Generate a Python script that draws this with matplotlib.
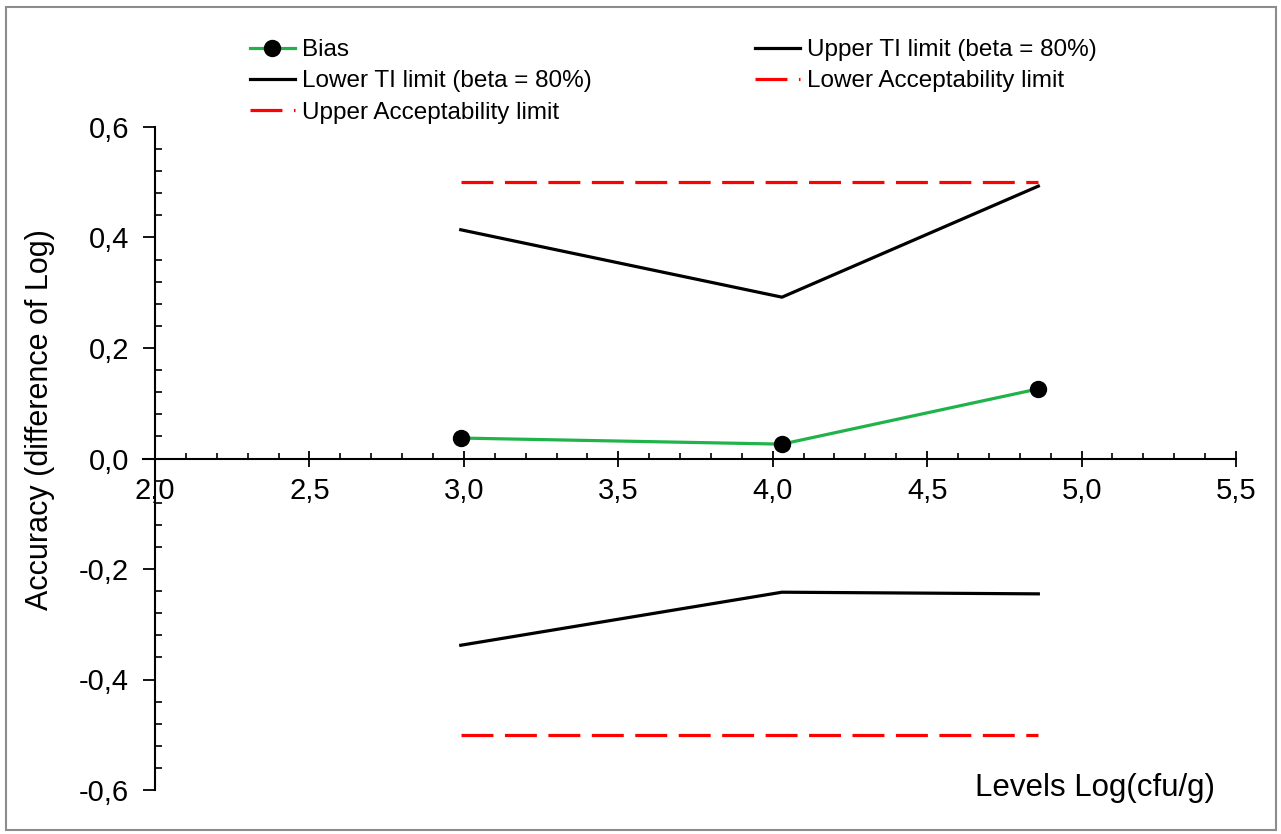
import matplotlib
matplotlib.use("Agg")
import matplotlib.pyplot as plt
from matplotlib.ticker import MultipleLocator, FuncFormatter
from matplotlib.patches import Rectangle

plt.rcParams['font.family'] = ['Liberation Sans', 'DejaVu Sans']

##values
levels = [2.99, 4.03, 4.86]
bias = [0.037, 0.026, 0.126]
upper_ti = [0.414, 0.292, 0.493]
lower_ti = [-0.338, -0.242, -0.245]
upper_acc = [0.5, 0.5, 0.5]
lower_acc = [-0.5, -0.5, -0.5]

W, H = 1281, 834
fig = plt.figure(figsize=(W / 100, H / 100), dpi=100)

##axes placed so that x=2.0 sits at 155 px and y spans 127..790 px
ax = fig.add_axes([143 / W, 1 - 790 / H, (1236 - 143) / W, (790 - 127) / H])
ax.set_xlim(2.0 - 12 / 308.86, 5.5)
ax.set_ylim(-0.6, 0.6)

red_dash = (0, (10, 3.6))
l_bias, = ax.plot(levels, bias, color='#1fb34a', lw=2.3, marker='o', ms=11.5,
                  mfc='black', mec='black', zorder=5, label='Bias')
l_up, = ax.plot(levels, upper_ti, color='black', lw=2.3, label='Upper TI limit (beta = 80%)')
l_lo, = ax.plot(levels, lower_ti, color='black', lw=2.3, label='Lower TI limit (beta = 80%)')
l_lacc, = ax.plot(levels, lower_acc, color='#ff0000', lw=2.3, ls=red_dash,
                  label='Lower Acceptability limit')
l_uacc, = ax.plot(levels, upper_acc, color='#ff0000', lw=2.3, ls=red_dash,
                  label='Upper Acceptability limit')

##axis styling: crossing spines at (2.0, 0)
for s in ['top', 'right']:
    ax.spines[s].set_visible(False)
ax.spines['left'].set_position(('data', 2.0))
ax.spines['bottom'].set_position(('data', 0.0))
for s in ['left', 'bottom']:
    ax.spines[s].set_linewidth(1.5)

ax.xaxis.set_major_locator(MultipleLocator(0.5))
ax.xaxis.set_minor_locator(MultipleLocator(0.1))
ax.yaxis.set_major_locator(MultipleLocator(0.2))
ax.yaxis.set_minor_locator(MultipleLocator(0.04))
comma = FuncFormatter(lambda v, p: f"{v:.1f}".replace('.', ',').replace('-0,0', '0,0'))
ax.xaxis.set_major_formatter(comma)
ax.yaxis.set_major_formatter(comma)

ax.tick_params(axis='x', which='major', direction='inout', length=11, width=1.3,
               labelsize=21, pad=8)
ax.tick_params(axis='x', which='minor', direction='in', length=4.5, width=1.2)
ax.tick_params(axis='y', which='major', direction='out', length=8.6, width=1.3,
               labelsize=21, pad=10)
ax.tick_params(axis='y', which='minor', direction='in', length=5, width=1.2)

fig.text(40 / W, 1 - 420 / H, 'Accuracy (difference of Log)', rotation=90,
         ha='center', va='center', fontsize=22)
fig.text(1215 / W, 1 - 788 / H, 'Levels Log(cfu/g)', ha='right', va='center',
         fontsize=22.5)

##two legend columns, filled row by row like the original
leg_kw = dict(loc='upper left', frameon=False, fontsize=17.5, handlelength=1.85,
              handletextpad=0.3, borderpad=0, borderaxespad=0, labelspacing=0.38)
leg1 = fig.legend(handles=[l_bias, l_lo, l_uacc], bbox_to_anchor=(250 / W, 1 - 39 / H), **leg_kw)
leg2 = fig.legend(handles=[l_up, l_lacc], bbox_to_anchor=(755 / W, 1 - 39 / H), **leg_kw)

fig.patches.append(Rectangle((6 / W, 4 / H), 1 - 11 / W, 1 - 11 / H,
                             transform=fig.transFigure, fill=False,
                             edgecolor='#8c8c8c', lw=1.5))

fig.savefig('out.png', dpi=100, facecolor='white')
